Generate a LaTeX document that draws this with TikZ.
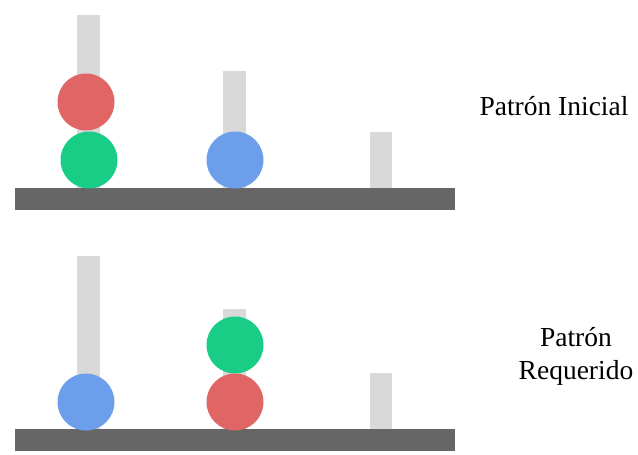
\documentclass[tikz,border=0pt]{standalone}
\usepackage{fontspec}
\setmainfont{Liberation Serif}
\definecolor{ballred}{HTML}{E06666}
\definecolor{ballgreen}{HTML}{1ACD87}
\definecolor{ballblue}{HTML}{6D9EEB}
\definecolor{pegg}{HTML}{D9D9D9}
\definecolor{baseg}{HTML}{666666}
\begin{document}
\begin{tikzpicture}[x=1pt,y=-1pt,
  peg/.style={fill=pegg,draw=none},
  basebar/.style={fill=baseg,draw=none},
  ball/.style={circle,minimum size=57pt,inner sep=0pt,draw=none},
  lbl/.style={font=\fontsize{27.5}{33}\selectfont,align=center,text=black}]
\useasboundingbox (0,0) rectangle (638,455);
% top panel
\fill[peg] (77,15) rectangle (100,188);
\fill[peg] (223,71) rectangle (246,188);
\fill[peg] (370,132) rectangle (392,188);
\fill[basebar] (15,188) rectangle (455,210);
\node[ball,fill=ballred] (t1) at (86,102) {};
\node[ball,fill=ballgreen] (t2) at (89,160) {};
\node[ball,fill=ballblue] (t3) at (235,160) {};
\node[lbl] (ti) at (554,106) {Patrón Inicial};
% bottom panel
\fill[peg] (77,256) rectangle (100,429);
\fill[peg] (223,309) rectangle (246,429);
\fill[peg] (370,373) rectangle (392,429);
\fill[basebar] (15,429) rectangle (455,451);
\node[ball,fill=ballblue] (b1) at (86,402) {};
\node[ball,fill=ballgreen] (b2) at (235,345) {};
\node[ball,fill=ballred] (b3) at (235,402) {};
\node[lbl] (tr) at (576,356) {Patrón\\Requerido};
\end{tikzpicture}
\end{document}
